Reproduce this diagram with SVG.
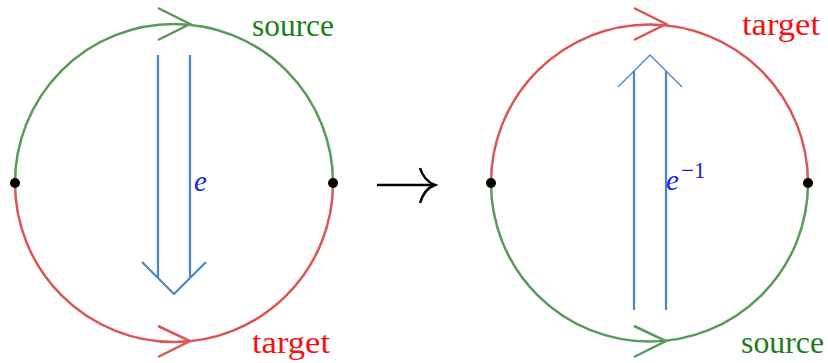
<svg xmlns="http://www.w3.org/2000/svg" width="828" height="363" viewBox="0 0 828 363">
<style>
.g{fill:none;stroke:#5a9a5a;stroke-width:2.5}
.r{fill:none;stroke:#db5656;stroke-width:2.5}
.b{fill:none;stroke:#4a86c8;stroke-width:2.2}
.bt{fill:none;stroke:#4a86c8;stroke-width:1.3}
.lab{font-family:"Liberation Serif",serif;font-size:31px}
.gt{fill:#1a7f1a}
.rt{fill:#f21010}
.e{font-family:"Liberation Serif",serif;font-style:italic;font-size:29px;fill:#2222ee}
</style>
<rect width="828" height="363" fill="#fff"/>
<g id="left-circle">
<path class="g" d="M15,183 A159,159 0 0 1 174,24 A159,159 0 0 1 333,183"/>
<path class="r" d="M15,183 A159,159 0 0 0 174,342 A159,159 0 0 0 333,183"/>
<path class="g" d="M158,8 L190,24 L158,40"/>
<path class="r" d="M158,326 L190,341 L158,357"/>
<circle cx="15" cy="183" r="5"/>
<circle cx="333" cy="183" r="5"/>
<text class="lab gt" x="252" y="36" textLength="82" lengthAdjust="spacingAndGlyphs">source</text>
<text class="lab rt" x="252" y="353" textLength="78" lengthAdjust="spacingAndGlyphs">target</text>
</g>
<g id="left-arrow">
<path class="b" d="M158,55 V278 M190,55 V278 M142,262 L174,294 L206,262"/>
<text class="e" x="194" y="191">e</text>
</g>
<g id="connectors">
<path d="M377,185 H433" stroke="#000" stroke-width="2.5" fill="none"/>
<path d="M420,168 Q424,181 435,185 Q424,189 420,203" stroke="#000" stroke-width="2.5" fill="none"/>
</g>
<g id="right-circle">
<path class="r" d="M491,183 A158.5,158.5 0 0 1 649.5,24.5 A158.5,158.5 0 0 1 808,183"/>
<path class="g" d="M491,183 A158.5,158.5 0 0 0 649.5,341.5 A158.5,158.5 0 0 0 808,183"/>
<path class="r" d="M634,8 L666,24 L634,40"/>
<path class="g" d="M634,326 L666,341 L634,357"/>
<circle cx="491" cy="183" r="5"/>
<circle cx="808" cy="183" r="5"/>
<text class="lab rt" x="742" y="35" textLength="78" lengthAdjust="spacingAndGlyphs">target</text>
<text class="lab gt" x="741" y="353" textLength="83" lengthAdjust="spacingAndGlyphs">source</text>
</g>
<g id="right-arrow">
<path class="b" d="M634,71 V310 M666,71 V310"/>
<path class="bt" d="M618,87 L650,55 L682,87"/>
<text class="e" x="666" y="190">e<tspan font-style="normal" font-size="23" x="681" y="178">−1</tspan></text>
</g>
</svg>
